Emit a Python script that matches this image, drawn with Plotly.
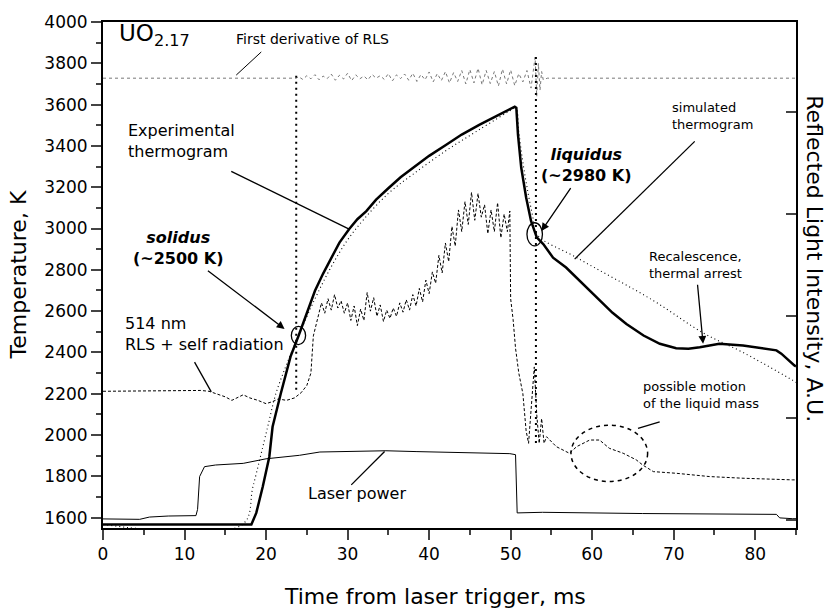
import plotly.graph_objects as go

# ---------------- data ----------------
exp_t = [0, 18.2, 18.8, 19.6, 20.4, 20.8, 21.8, 23.0, 24.0, 25.0, 26.0, 27.0, 28.0, 29.0, 30.2,
         31.2, 32.3, 33.5, 35.0, 36.5, 38.0, 40.0, 42.1, 44.0, 46.2, 48.3, 50.3, 50.5, 50.7,
         50.9, 51.3, 51.9, 52.5, 53.2, 54.0, 55.2, 56.8, 58.9, 60.9, 62.5, 64.2, 66.3, 68.3,
         70.3, 71.8, 73.2, 75.6, 78.5, 82.6, 83.2, 84.8, 85]
exp_T = [1567, 1567, 1623, 1751, 1895, 2040, 2200, 2380, 2482, 2588, 2699, 2782, 2858, 2932, 2998,
         3045, 3084, 3140, 3195, 3248, 3293, 3352, 3406, 3455, 3503, 3545, 3583, 3590, 3583,
         3455, 3294, 3150, 3037, 2957, 2925, 2859, 2811, 2731, 2651, 2592, 2538, 2482, 2442,
         2420, 2418, 2425, 2442, 2434, 2410, 2394, 2337, 2333]

sim_t = [0, 17.1, 18.4, 20.2, 21.2, 22.5, 24.0, 26.0, 28.0, 30.0, 32.0, 35.0, 38.0, 42.0, 46.0,
         50.5, 50.7, 51.0, 51.5, 52.1, 52.7, 53.2, 58.1, 67.5, 73.6, 78.5, 84.6, 85]
sim_T = [1567, 1567, 1751, 2040, 2200, 2340, 2482, 2660, 2815, 2945, 3045, 3170, 3262, 3375, 3475,
         3585, 3590, 3470, 3320, 3180, 3060, 2972, 2859, 2651, 2495, 2400, 2265, 2255]

rls_t = [0, 5, 10, 12, 13, 14, 15, 15.8, 16.5, 17.2, 18, 19, 20, 20.8, 21.5, 22.5, 23.5, 24.3,
         25, 25.5, 25.8, 26.3, 26.8, 27.2, 27.6, 28, 28.4, 28.8, 29.2, 29.6, 30, 30.4, 30.8,
         31.2, 31.6, 32, 32.4, 32.8, 33.2, 33.6, 34, 34.4, 34.8, 35.2, 35.6, 36, 36.4, 36.8,
         37.2, 37.6, 38, 38.4, 38.8, 39.2, 39.6, 40, 40.4, 40.8, 41.2, 41.6, 42, 42.4, 42.8,
         43.2, 43.6, 44, 44.4, 44.8, 45.2, 45.6, 46, 46.4, 46.8, 47.2, 47.6, 48, 48.4, 48.8,
         49.2, 49.6, 49.9, 50.0, 50.3, 50.6, 51.0, 51.5, 51.9, 52.2, 52.6, 52.9, 53.2, 53.5,
         53.8, 54.1, 54.4, 55.6, 57.2, 58.1, 59.7, 60.9, 62.1, 63.8, 65.4, 66.2, 67.5, 70.3,
         74.4, 78.5, 84.6, 85]
rls_I = [2212, 2214, 2214, 2216, 2212, 2200, 2185, 2168, 2180, 2195, 2180, 2168, 2152, 2162, 2175,
         2168, 2180, 2205, 2240, 2300, 2480, 2560, 2640, 2590, 2660, 2605, 2680, 2615, 2650,
         2590, 2640, 2555, 2625, 2530, 2610, 2555, 2690, 2600, 2665, 2575, 2630, 2550, 2605,
         2565, 2615, 2575, 2640, 2595, 2655, 2605, 2680, 2625, 2710, 2645, 2750, 2685, 2790,
         2735, 2870, 2785, 2930, 2840, 3010, 2915, 3090, 2985, 3130, 3020, 3175, 3040, 3170,
         3055, 3115, 2975, 3090, 2985, 3125, 2955, 3070, 2985, 3085, 2660, 2560, 2420, 2300,
         2200, 2020, 1960, 2150, 2330, 2100, 1960, 2080, 1960, 1992, 1944, 1912, 1944, 1976,
         1976, 1936, 1912, 1880, 1855, 1823, 1815, 1799, 1791, 1783, 1783]

laser_t = [0, 4.0, 4.5, 5.7, 8, 11.4, 11.6, 11.85, 12.45, 13.8, 17.2, 20.0, 24.1, 26.6, 32.3,
           34.7, 38.4, 44, 49.9, 50.6, 50.8, 53.9, 66.2, 82.6, 83.0, 84.6, 85]
laser_P = [1594, 1590, 1592, 1603, 1608, 1610, 1640, 1799, 1847, 1855, 1863, 1885, 1902, 1918, 1920,
           1924, 1920, 1916, 1910, 1905, 1623, 1626, 1620, 1616, 1599, 1595, 1595]

deriv_t = [0, 23.7, 24, 24.5, 25, 25.5, 26, 26.5, 27, 27.5, 28, 28.5, 29, 29.5, 30, 30.5, 31,
           31.5, 32, 32.5, 33, 33.5, 34, 34.5, 35, 35.5, 36, 36.5, 37, 37.5, 38, 38.5, 39, 39.5,
           40, 40.5, 41, 41.5, 42, 42.5, 43, 43.5, 44, 44.5, 45, 45.5, 46, 46.5, 47, 47.5, 48,
           48.5, 49, 49.5, 50, 50.5, 51, 51.5, 52, 52.5, 53, 53.2, 53.4, 53.6, 53.8, 54, 54.5, 85]
deriv_D = [3728, 3728, 3735, 3722, 3740, 3725, 3745, 3720, 3738, 3726, 3748, 3718, 3742, 3724,
           3752, 3716, 3744, 3725, 3738, 3720, 3746, 3728, 3740, 3722, 3750, 3715, 3744, 3726,
           3748, 3718, 3752, 3712, 3746, 3720, 3758, 3710, 3750, 3716, 3760, 3705, 3755, 3712,
           3765, 3700, 3770, 3705, 3776, 3696, 3765, 3702, 3760, 3690, 3772, 3700, 3768, 3692,
           3750, 3710, 3765, 3680, 3830, 3640, 3800, 3670, 3760, 3720, 3728, 3728]

solidus_line_t = [23.7, 23.7]
solidus_line_T = [3740, 2200]
liquidus_line_t = [53.1, 53.1]
liquidus_line_T = [3830, 1960]

y_ticks = list(range(1600, 4001, 200))
x_ticks = list(range(0, 81, 10))

FONT = "DejaVu Sans, Liberation Sans, Arial"

fig = go.Figure()
fig.add_trace(go.Scatter(x=deriv_t, y=deriv_D, mode="lines",
                         line=dict(color="#777777", width=1, dash="dot")))
fig.add_trace(go.Scatter(x=laser_t, y=laser_P, mode="lines",
                         line=dict(color="black", width=1)))
fig.add_trace(go.Scatter(x=rls_t, y=rls_I, mode="lines",
                         line=dict(color="black", width=1, dash="3px,2px")))
fig.add_trace(go.Scatter(x=sim_t, y=sim_T, mode="lines", line_shape="spline",
                         line=dict(color="black", width=1.1, dash="1px,3px")))
fig.add_trace(go.Scatter(x=exp_t, y=exp_T, mode="lines",
                         line=dict(color="black", width=2.5)))
fig.add_trace(go.Scatter(x=solidus_line_t, y=solidus_line_T, mode="lines",
                         line=dict(color="black", width=2, dash="2px,4px")))
fig.add_trace(go.Scatter(x=liquidus_line_t, y=liquidus_line_T, mode="lines",
                         line=dict(color="black", width=2, dash="2px,4px")))
# invisible trace to register right axis
fig.add_trace(go.Scatter(x=[0], y=[0], yaxis="y2", mode="markers",
                         marker=dict(opacity=0), hoverinfo="skip"))

shapes = []
def seg(x0, y0, x1, y1, w=1.3):
    shapes.append(dict(type="line", xref="x", yref="y", x0=x0, y0=y0, x1=x1, y1=y1,
                       line=dict(color="black", width=w)))

seg(16.34, 3743, 19.41, 3855, 1)          # first derivative pointer
seg(15.73, 3277, 30.25, 2996)             # experimental thermogram pointer
seg(11.23, 2353, 13.28, 2209)             # 514 nm pointer
seg(30.45, 1759, 34.54, 1920)             # laser power pointer
seg(72.58, 3422, 57.85, 2852)             # simulated thermogram pointer
seg(68.28, 2064, 65.62, 2032)             # possible motion pointer

shapes.append(dict(type="circle", xref="x", yref="y", x0=23.1, x1=24.85, y0=2438, y1=2526,
                   line=dict(color="black", width=1.3)))
shapes.append(dict(type="circle", xref="x", yref="y", x0=52.0, x1=53.9, y0=2916, y1=3028,
                   line=dict(color="black", width=1.3)))
shapes.append(dict(type="circle", xref="x", yref="y", x0=57.4, x1=66.8, y0=1775, y1=2048,
                   line=dict(color="black", width=1.5, dash="4px,4px")))

ann = []
def txt(x, y, s, size, xanchor="center", yanchor="middle", align="center", **kw):
    d = dict(x=x, y=y, xref="x", yref="y", text=s, showarrow=False,
             font=dict(family=FONT, size=size, color="black"),
             xanchor=xanchor, yanchor=yanchor, align=align)
    d.update(kw)
    ann.append(d)

def arrow_label(s, size, x_text, y_text, x_head, y_head, align="center"):
    ann.append(dict(x=x_head, y=y_head, ax=x_text, ay=y_text, xref="x", yref="y",
                    axref="x", ayref="y", text=s, showarrow=True, arrowhead=2,
                    arrowsize=1.2, arrowwidth=1.3, arrowcolor="black", standoff=0,
                    startstandoff=2, align=align,
                    font=dict(family=FONT, size=size, color="black")))

txt(1.67, 3935, "UO<sub>2.17</sub>", 23, xanchor="left")
txt(25.7, 3918, "First derivative of RLS", 14)
txt(2.88, 3422, "Experimental<br>thermogram", 16, xanchor="left", align="left")
txt(2.5, 2487, "514 nm<br>RLS + self radiation", 16, xanchor="left", align="left")
txt(31.2, 1719, "Laser power", 16)
txt(69.5, 3545, "simulated<br>thermogram", 13, xanchor="left", align="left")
txt(66.0, 2193, "possible motion<br>of the liquid mass", 13, xanchor="left", align="left")

arrow_label("<b><i>solidus</i></b><br><b>(~2500 K)</b>", 16, 9.2, 2906, 22.27, 2514)
arrow_label("<b><i>liquidus</i></b><br><b>(~2980 K)</b>", 16, 59.3, 3308, 53.77, 2988)
arrow_label("Recalescence,<br>thermal arrest", 13, 72.7, 2822, 73.6, 2442, align="left")

# axis titles
ann.append(dict(x=0.479, y=-0.136, xref="paper", yref="paper", text="Time from laser trigger, ms",
                showarrow=False, font=dict(family=FONT, size=22, color="black"),
                xanchor="center", yanchor="middle"))
ann.append(dict(x=-0.122, y=0.5, xref="paper", yref="paper", text="Temperature, K",
                showarrow=False, textangle=-90, font=dict(family=FONT, size=22, color="black"),
                xanchor="center", yanchor="middle"))
ann.append(dict(x=1.0274, y=0.531, xref="paper", yref="paper",
                text="Reflected Light Intensity, A.U.", showarrow=False, textangle=90,
                font=dict(family=FONT, size=22, color="black"),
                xanchor="center", yanchor="middle"))

fig.update_layout(
    width=830, height=609,
    margin=dict(l=103, r=34, t=20, b=81),
    paper_bgcolor="white", plot_bgcolor="white",
    showlegend=False,
    font=dict(family=FONT, size=17, color="black"),
    shapes=shapes, annotations=ann,
    xaxis=dict(range=[0, 85], tickvals=x_ticks, ticks="outside", ticklen=10, tickwidth=2,
               showline=True, linewidth=2, linecolor="black", mirror=True,
               showgrid=False, zeroline=False, tickfont=dict(family=FONT, size=17),
               minor=dict(dtick=5, tick0=0, ticks="outside", ticklen=5, tickwidth=2,
                          showgrid=False)),
    yaxis=dict(range=[1550, 4000], tickvals=y_ticks, ticks="outside", ticklen=10, tickwidth=2,
               showline=True, linewidth=2, linecolor="black", mirror=False,
               showgrid=False, zeroline=False, tickfont=dict(family=FONT, size=17),
               minor=dict(dtick=100, tick0=1500, ticks="outside", ticklen=5, tickwidth=2,
                          showgrid=False)),
    yaxis2=dict(overlaying="y", side="right", range=[-0.078, 4.878],
                tickvals=[0, 1, 2, 3, 4], showticklabels=False, ticks="inside", ticklen=10,
                tickwidth=2, showline=True, linewidth=2, linecolor="black",
                showgrid=False, zeroline=False),
)

fig.write_html("out.html")
